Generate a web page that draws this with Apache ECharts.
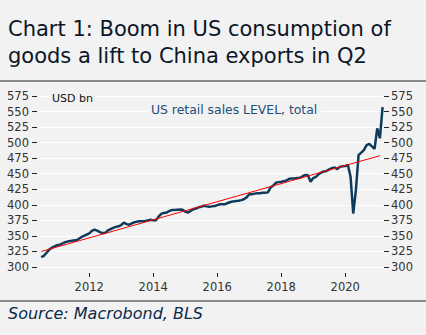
<!DOCTYPE html>
<html><head><meta charset="utf-8">
<script src="https://cdn.jsdelivr.net/npm/echarts@6/dist/echarts.min.js"></script>
<style>html,body{margin:0;padding:0;background:#f2f2f2;} #c{width:426px;height:335px;}</style>
</head><body><div id="c"></div>
<script>
// Monthly series starts July 2010
const startYear = 2010;
const startMonth = 7;
const salesValues = [
  316, 318, 323, 328, 331, 333, 335, 336, 338, 340, 341, 342,
  342.5, 343, 345, 348, 350, 352, 354, 358, 360, 358.4, 356, 354.5,
  355, 359, 361, 363, 364.5, 365.5, 367.5, 371.5, 369, 368, 370, 372,
  373, 373.5, 373.5, 374, 375, 376, 375, 375, 381, 385.5, 387, 387.5,
  390, 391.5, 391.5, 392, 392.5, 392, 389, 387.5, 390, 393, 394, 396,
  397, 398.5, 397.5, 397, 397.5, 398, 399.5, 400.8, 401, 401, 403, 404.5,
  405.5, 406, 406.5, 407.5, 409, 412, 417, 417, 418, 418.5, 418.5, 419.5,
  419.5, 420, 428, 431, 435.5, 436.5, 437, 438, 439, 442, 442.5, 442.5,
  443, 443.5, 446, 448, 447.5, 437, 443, 445, 449, 452, 453.5, 454.5,
  457, 459, 460, 457.5, 461, 462, 462.5, 464, 445, 386, 424, 480,
  484, 488, 496, 498, 494, 490, 523, 507, 557
];
// Linear trend (red): value at first month and at its last month index
const trendValues = [325, 479];
const trendMonthIndex = [0, 127];
const xTickYears = [2012, 2014, 2016, 2018, 2020];
const yMin = 300, yMax = 575, yStep = 25;

const titleLines = ['Chart 1: Boom in US consumption of', 'goods a lift to China exports in Q2'];
const unitLabel = 'USD bn';
const seriesName = 'US retail sales LEVEL, total';
const sourceText = 'Source: Macrobond, BLS';

const toX = i => startYear + (startMonth - 1 + i) / 12;
const salesData = salesValues.map((v, i) => [toX(i), v]);
const trendData = trendValues.map((v, k) => [toX(trendMonthIndex[k]), v]);

const navy = '#0e3b5c';
const font = 'DejaVu Sans';
const chart = echarts.init(document.getElementById('c'), null, {renderer: 'svg'});
chart.setOption({
  backgroundColor: '#f2f2f2',
  animation: false,
  grid: {left: 39, right: 43, top: 96, bottom: 68},
  xAxis: {
    type: 'value', min: 2010.43, max: 2021.18, offset: 6,
    axisLine: {show: false},
    axisTick: {show: true, length: 4, customValues: xTickYears, lineStyle: {color: '#222', width: 1}},
    axisLabel: {customValues: xTickYears, margin: 8, color: '#333', fontFamily: font, fontSize: 11.5,
      formatter: v => String(v)},
    splitLine: {show: false}
  },
  yAxis: [
    {type: 'value', min: yMin, max: yMax, interval: yStep, position: 'left', offset: 2,
     axisLine: {show: false},
     axisTick: {show: true, length: 5, lineStyle: {color: '#222'}},
     axisLabel: {margin: 8, color: '#333', fontFamily: font, fontSize: 11.5},
     splitLine: {show: true, lineStyle: {color: '#ffffff', width: 1}}},
    {type: 'value', min: yMin, max: yMax, interval: yStep, position: 'right', offset: 1,
     axisLine: {show: false},
     axisTick: {show: true, length: 5, lineStyle: {color: '#222'}},
     axisLabel: {margin: 7, color: '#333', fontFamily: font, fontSize: 11.5},
     splitLine: {show: false}}
  ],
  series: [
    {type: 'line', name: seriesName, data: salesData, showSymbol: false, yAxisIndex: 0,
     lineStyle: {color: navy, width: 2.5}, z: 2},
    {type: 'line', name: 'trend', data: trendData, showSymbol: false, yAxisIndex: 0,
     lineStyle: {color: '#ff0000', width: 1}, z: 3}
  ],
  graphic: [
    {type: 'text', left: 8, top: 18, style: {text: titleLines[0], font: '21px "DejaVu Sans"', fill: '#0b1626'}},
    {type: 'text', left: 8, top: 45, style: {text: titleLines[1], font: '21px "DejaVu Sans"', fill: '#0b1626'}},
    {type: 'line', shape: {x1: 0, y1: 81, x2: 426, y2: 81}, style: {stroke: '#8a8a8a', lineWidth: 2}},
    {type: 'line', shape: {x1: 0, y1: 301, x2: 426, y2: 301}, style: {stroke: '#8a8a8a', lineWidth: 2}},
    {type: 'text', left: 49, top: 92, z: 10, style: {text: unitLabel, font: '11px "DejaVu Sans"', fill: '#111',
      backgroundColor: '#f2f2f2', padding: [1, 3, 1, 3]}},
    {type: 'text', left: 148, top: 102, z: 10, style: {text: seriesName, font: '12.4px "DejaVu Sans"', fill: '#1f4e79',
      backgroundColor: '#f2f2f2', padding: [1, 3, 1, 3]}},
    {type: 'text', left: 8, top: 305, style: {text: sourceText, font: 'italic 16px "DejaVu Sans"', fill: '#0b2a4a'}}
  ]
});
</script></body></html>
